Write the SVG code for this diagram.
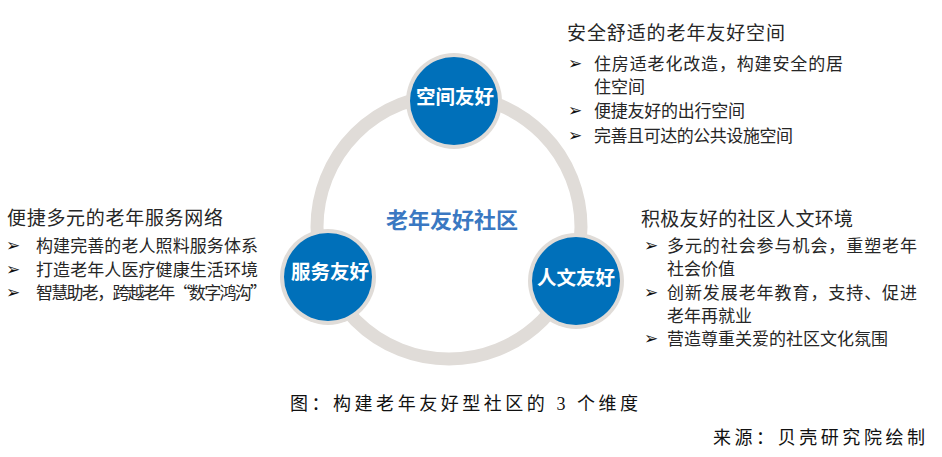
<svg xmlns="http://www.w3.org/2000/svg" width="942" height="457" viewBox="0 0 942 457">
<style>
.ring{fill:none;stroke:#E0DCD8;stroke-width:13}
.halo{fill:#E0DCD8}
.blue{fill:#0070BA}
.lbl{font-family:"Noto Sans CJK SC","Liberation Sans",sans-serif;font-size:19.5px;font-weight:bold;fill:#FFFFFF;text-anchor:middle}
.center{font-family:"Noto Sans CJK SC","Liberation Sans",sans-serif;font-size:22px;font-weight:bold;fill:#3A78C2;text-anchor:middle}
.ttl{font-family:"Noto Sans CJK SC","Liberation Sans",sans-serif;font-size:19px;fill:#262626}
.txt{font-family:"Noto Sans CJK SC","Liberation Sans",sans-serif;font-size:17px;fill:#262626}
.arw{font-family:"DejaVu Sans",sans-serif;font-size:17px;fill:#111111}
.cap{font-family:"Liberation Serif","Noto Sans CJK SC",serif;font-size:18px;fill:#111111}
</style>
<rect width="942" height="457" fill="#FFFFFF"/>
<g id="connectors">
<circle class="ring" cx="449" cy="227" r="132"/>
</g>
<g id="node-space">
<circle class="halo" cx="454" cy="101" r="48"/>
<circle class="blue" cx="454" cy="101" r="44"/>
<text class="lbl" x="455" y="104">空间友好</text>
</g>
<g id="node-service">
<circle class="halo" cx="328" cy="277" r="48"/>
<circle class="blue" cx="328" cy="277" r="44"/>
<text class="lbl" x="330" y="279">服务友好</text>
</g>
<g id="node-culture">
<circle class="halo" cx="576" cy="281" r="48"/>
<circle class="blue" cx="576" cy="281" r="44"/>
<text class="lbl" x="576" y="285">人文友好</text>
</g>
<g id="center-label">
<text class="center" x="452" y="228">老年友好社区</text>
</g>
<g id="block-space">
<text class="ttl" x="567" y="40" textLength="218" lengthAdjust="spacing">安全舒适的老年友好空间</text>
<text class="arw" x="568" y="69">➢</text>
<text class="txt" x="594" y="69.5" textLength="249" lengthAdjust="spacing">住房适老化改造，构建安全的居</text>
<text class="txt" x="594" y="92.5">住空间</text>
<text class="arw" x="568" y="116">➢</text>
<text class="txt" x="594" y="116.5" textLength="151" lengthAdjust="spacing">便捷友好的出行空间</text>
<text class="arw" x="568" y="141">➢</text>
<text class="txt" x="594" y="141.5" textLength="199" lengthAdjust="spacing">完善且可达的公共设施空间</text>
</g>
<g id="block-service">
<text class="ttl" x="7" y="224.5" textLength="216" lengthAdjust="spacing">便捷多元的老年服务网络</text>
<text class="arw" x="6" y="251">➢</text>
<text class="txt" x="36" y="251.5" textLength="222" lengthAdjust="spacing">构建完善的老人照料服务体系</text>
<text class="arw" x="6" y="275">➢</text>
<text class="txt" x="36" y="275.5" textLength="222" lengthAdjust="spacing">打造老年人医疗健康生活环境</text>
<text class="arw" x="6" y="298">➢</text>
<text class="txt" x="36" y="298.5" textLength="231" lengthAdjust="spacing">智慧助老，跨越老年“数字鸿沟”</text>
</g>
<g id="block-culture">
<text class="ttl" x="641" y="225.5" textLength="212" lengthAdjust="spacing">积极友好的社区人文环境</text>
<text class="arw" x="644" y="251">➢</text>
<text class="txt" x="667" y="251.5" textLength="250" lengthAdjust="spacing">多元的社会参与机会，重塑老年</text>
<text class="txt" x="667" y="274.5">社会价值</text>
<text class="arw" x="644" y="298">➢</text>
<text class="txt" x="667" y="298.5" textLength="250" lengthAdjust="spacing">创新发展老年教育，支持、促进</text>
<text class="txt" x="667" y="321.5">老年再就业</text>
<text class="arw" x="644" y="344">➢</text>
<text class="txt" x="667" y="344.5" textLength="221" lengthAdjust="spacing">营造尊重关爱的社区文化氛围</text>
</g>
<g id="captions">
<text class="cap" x="290" y="410" textLength="348" lengthAdjust="spacing">图：构建老年友好型社区的 3 个维度</text>
<text class="cap" x="713" y="444" textLength="212" lengthAdjust="spacing">来源：贝壳研究院绘制</text>
</g>
</svg>
